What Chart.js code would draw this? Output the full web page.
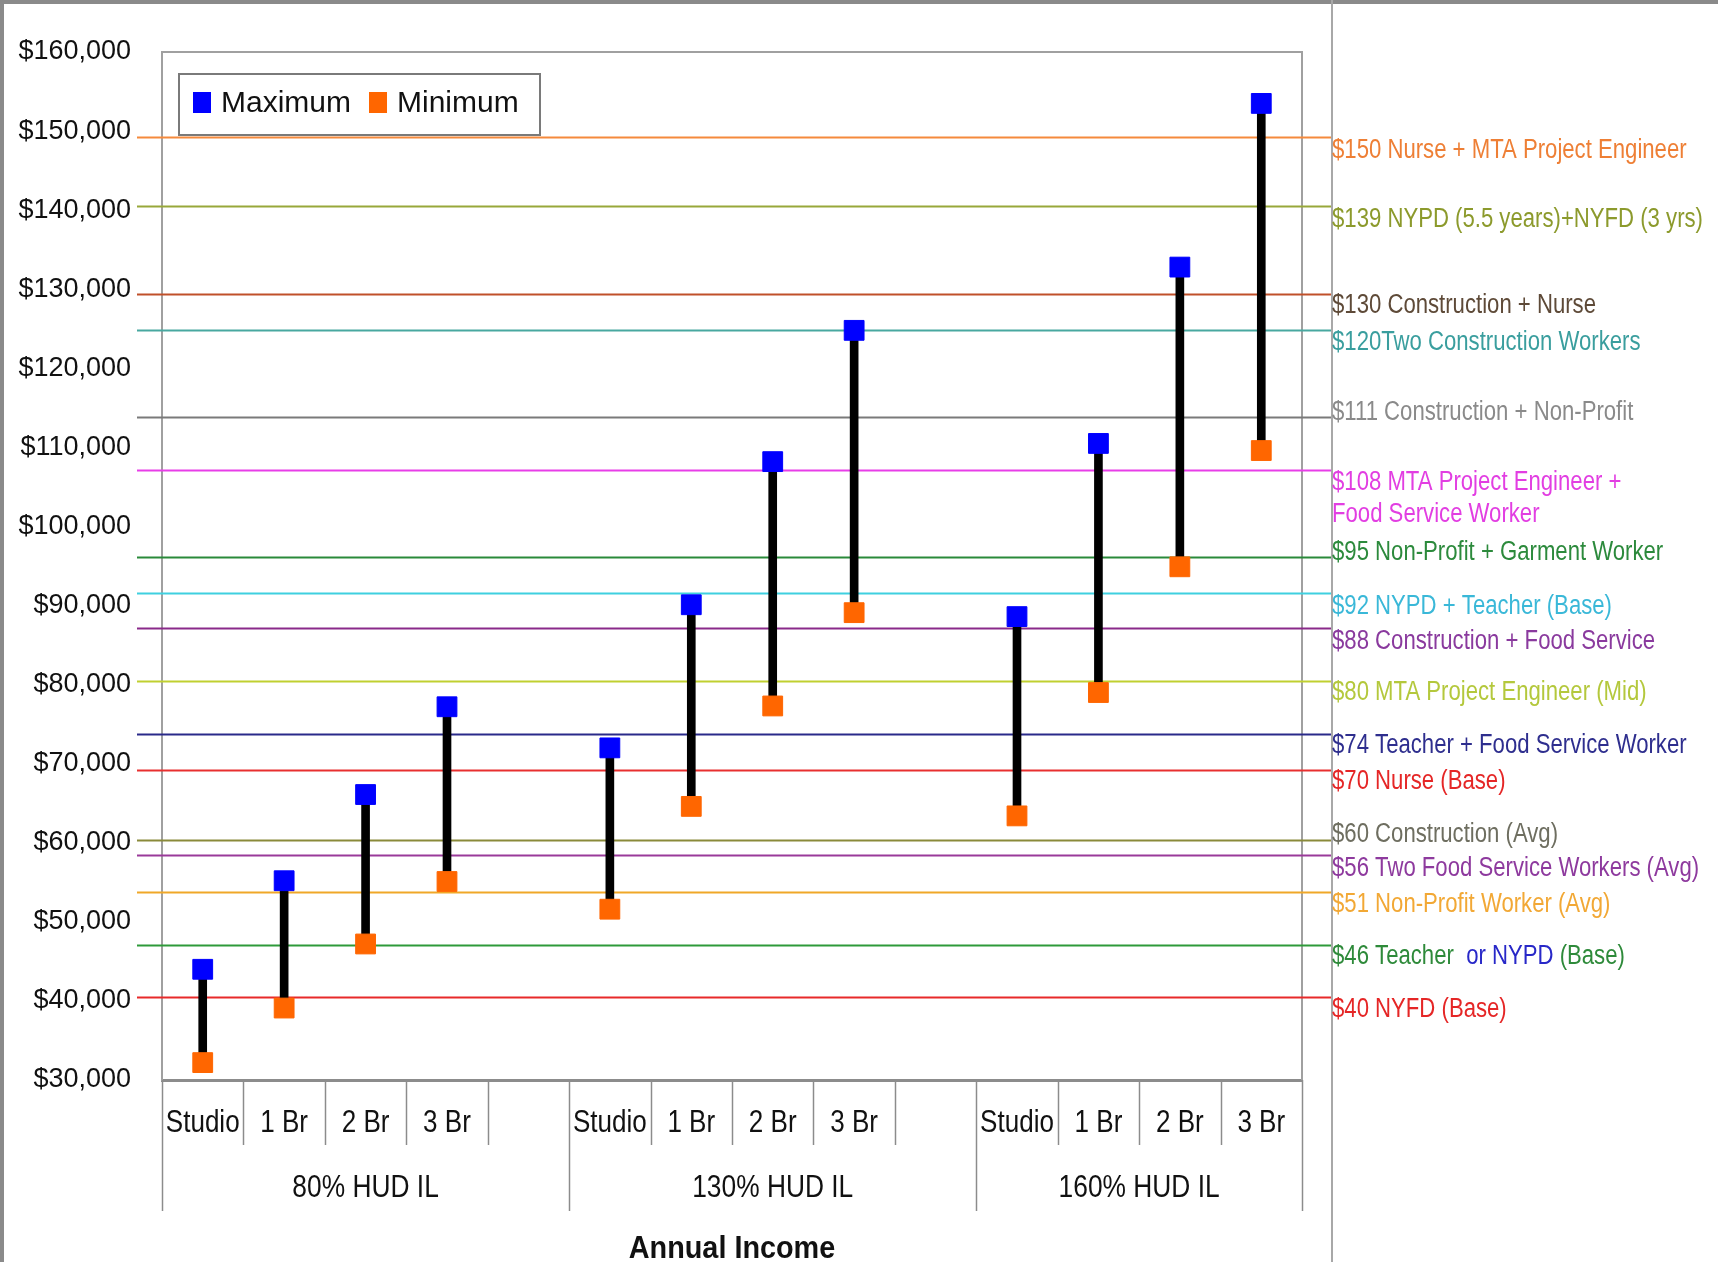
<!DOCTYPE html>
<html>
<head>
<meta charset="utf-8">
<script src="https://cdn.jsdelivr.net/npm/chart.js@4.4.1/dist/chart.umd.min.js"></script>
<style>
  html, body { margin: 0; padding: 0; background: #fff; }
  canvas { display: block; }
</style>
</head>
<body>
<canvas id="chart" width="1718" height="1262"></canvas>
<script>
const categories = ['Studio', '1 Br', '2 Br', '3 Br', '', 'Studio', '1 Br', '2 Br', '3 Br', '', 'Studio', '1 Br', '2 Br', '3 Br']
const groups = ['80% HUD IL', '130% HUD IL', '160% HUD IL']
const groupSpans = [[0, 4], [5, 9], [10, 13]]
const axisTitle = 'Annual Income'

const maximum = [44000, 55200, 66100, 77200, null, 72000, 90100, 108200, 124800, null, 88600, 110500, 132800, 153500]
const minimum = [32200, 39100, 47200, 55100, null, 51600, 64600, 77300, 89100, null, 63400, 79000, 94900, 109600]

const yMin = 30000
const yMax = 160000
const yStep = 10000

// household income reference lines (where they sit in the picture)
const refValues = [149200, 140500, 129400, 124900, 113800, 107200, 96200, 91600, 87100, 80500, 73800, 69200, 60400, 58400, 53800, 47100, 40500]
const refLabels = [
  '$150 Nurse + MTA Project Engineer',
  '$139 NYPD (5.5 years)+NYFD (3 yrs)',
  '$130 Construction + Nurse',
  '$120Two Construction Workers',
  '$111 Construction + Non-Profit',
  '$108 MTA Project Engineer +\nFood Service Worker',
  '$95 Non-Profit + Garment Worker',
  '$92 NYPD + Teacher (Base)',
  '$88 Construction + Food Service',
  '$80 MTA Project Engineer (Mid)',
  '$74 Teacher + Food Service Worker',
  '$70 Nurse (Base)',
  '$60 Construction (Avg)',
  '$56 Two Food Service Workers (Avg)',
  '$51 Non-Profit Worker (Avg)',
  '$46 Teacher  or NYPD (Base)',
  '$40 NYFD (Base)'
]

const refLineColors = ['#f58a3c', '#98a83a', '#c0502a', '#48a8a0', '#7a7a7a', '#e83ee8', '#2a8a3a', '#3fd0e0', '#8a2a8a', '#c0d030', '#2a2a8a', '#e83030', '#8a8a3a', '#9a3a9a', '#f0a828', '#2e9a3a', '#e82a2a']
const refTextColors = ['#ee7f35', '#8c9a2c', '#5e4a38', '#3a9e9e', '#8a8a8a', '#e23ee2', '#2c8a3c', '#3ab8d8', '#8a3a9e', '#b4c83c', '#2e2e8e', '#e52626', '#6e6e60', '#8e3a9e', '#f2a835', '#2e8a3a', '#e52626']
const labelNudge = [13, 13, 12, 13, -5, 13, -4, 14, 13, 12, 12, 12, -5, 13, 13, 12, 13]
const highlight = { 15: { text: 'or NYPD', color: '#2828c8' } }

const SANS = '"Liberation Sans", Arial, sans-serif'

// no narrow face installed: squeeze the text horizontally instead
function narrowText(ctx, text, x, y, squeeze) {
  ctx.save()
  ctx.translate(x, y)
  ctx.scale(squeeze, 1)
  ctx.fillText(text, 0, 0)
  ctx.restore()
  return ctx.measureText(text).width * squeeze
}

const decorations = {
  id: 'decorations',
  beforeDatasetsDraw(chart) {
    const { ctx, chartArea: a, scales: { y } } = chart
    ctx.save()
    ctx.strokeStyle = '#a0a0a0'
    ctx.lineWidth = 2
    ctx.beginPath()
    ctx.moveTo(a.left, a.bottom)
    ctx.lineTo(a.left, a.top)
    ctx.lineTo(a.right, a.top)
    ctx.lineTo(a.right, a.bottom)
    ctx.stroke()
    refValues.forEach((v, i) => {
      const py = Math.round(y.getPixelForValue(v)) + 0.5
      ctx.strokeStyle = refLineColors[i]
      ctx.lineWidth = 2
      ctx.beginPath()
      ctx.moveTo(a.left - 25, py)
      ctx.lineTo(a.right + 30, py)
      ctx.stroke()
    })
    ctx.restore()
  },
  afterDraw(chart) {
    const { ctx, chartArea: a, scales: { x, y } } = chart
    ctx.save()

    // outer frame and right separator
    ctx.fillStyle = '#8a8a8a'
    ctx.fillRect(0, 0, chart.width, 4)
    ctx.fillRect(0, 0, 4, chart.height)
    ctx.fillStyle = '#a8a8a8'
    ctx.fillRect(a.right + 29, 0, 2, chart.height)

    // category separators
    const slot = (a.right - a.left) / categories.length
    const longAt = [0]
    groupSpans.forEach(s => longAt.push(s[1] + 1))
    ctx.strokeStyle = '#8c8c8c'
    ctx.lineWidth = 1.5
    for (let b = 0; b <= categories.length; b++) {
      const px = Math.round(x.getPixelForValue(0) - slot / 2 + b * slot) + 0.5
      const len = longAt.includes(b) ? 131 : 65
      ctx.beginPath()
      ctx.moveTo(px, a.bottom)
      ctx.lineTo(px, a.bottom + len)
      ctx.stroke()
    }

    // category, group and axis labels
    ctx.fillStyle = '#111'
    ctx.textAlign = 'center'
    ctx.textBaseline = 'middle'
    ctx.font = '31px ' + SANS
    categories.forEach((c, i) => {
      if (c) narrowText(ctx, c, x.getPixelForValue(i), a.bottom + 43, 0.84)
    })
    groups.forEach((g, i) => {
      const cx = (x.getPixelForValue(groupSpans[i][0]) + x.getPixelForValue(groupSpans[i][1])) / 2
      narrowText(ctx, g, cx, a.bottom + 108, 0.85)
    })
    ctx.font = 'bold 32px ' + SANS
    narrowText(ctx, axisTitle, (a.left + a.right) / 2, a.bottom + 169, 0.9)

    // reference labels on the right
    ctx.textAlign = 'left'
    ctx.font = '27px ' + SANS
    const lx = a.right + 30
    const sq = 0.82
    refLabels.forEach((txt, i) => {
      const ly = y.getPixelForValue(refValues[i]) + labelNudge[i]
      txt.split('\n').forEach((line, k) => {
        const yy = ly + k * 32
        const h = highlight[i]
        if (h && line.includes(h.text)) {
          const [pre, post] = line.split(h.text)
          let cx = lx
          ctx.fillStyle = refTextColors[i]
          cx += narrowText(ctx, pre, cx, yy, sq)
          ctx.fillStyle = h.color
          cx += narrowText(ctx, h.text, cx, yy, sq)
          ctx.fillStyle = refTextColors[i]
          narrowText(ctx, post, cx, yy, sq)
        } else {
          ctx.fillStyle = refTextColors[i]
          narrowText(ctx, line, lx, yy, sq)
        }
      })
    })

    // legend box
    const bx = a.left + 17, by = a.top + 22, bw = 361, bh = 61
    ctx.fillStyle = '#fff'
    ctx.fillRect(bx, by, bw, bh)
    ctx.strokeStyle = '#7a7a7a'
    ctx.lineWidth = 2
    ctx.strokeRect(bx, by, bw, bh)
    ctx.font = '30px ' + SANS
    let cx = bx + 14
    chart.data.datasets.filter(d => d.type === 'line').forEach(d => {
      ctx.fillStyle = d.pointBackgroundColor
      ctx.fillRect(cx, by + 18, 18, 21)
      cx += 28
      ctx.fillStyle = '#111'
      ctx.fillText(d.label, cx, by + 30)
      cx += ctx.measureText(d.label).width + 18
    })
    ctx.restore()
  }
}

new Chart(document.getElementById('chart'), {
  data: {
    labels: categories,
    datasets: [
      {
        type: 'line',
        label: 'Maximum',
        data: maximum,
        showLine: false,
        pointStyle: 'rect',
        pointRadius: 14,
        pointBorderWidth: 1,
        pointBackgroundColor: '#0000ff',
        pointBorderColor: '#0000ff',
        order: 0
      },
      {
        type: 'line',
        label: 'Minimum',
        data: minimum,
        showLine: false,
        pointStyle: 'rect',
        pointRadius: 14,
        pointBorderWidth: 1,
        pointBackgroundColor: '#ff6600',
        pointBorderColor: '#ff6600',
        order: 0
      },
      {
        type: 'bar',
        label: 'Range',
        data: minimum.map((m, i) => m == null ? null : [m, maximum[i]]),
        backgroundColor: '#000',
        barThickness: 8,
        order: 1
      }
    ]
  },
  options: {
    responsive: false,
    animation: false,
    devicePixelRatio: 1,
    layout: { padding: { top: 52, right: 416, left: 0, bottom: 0 } },
    plugins: {
      legend: { display: false },
      tooltip: { enabled: false }
    },
    scales: {
      x: {
        type: 'category',
        offset: true,
        grid: { display: false, drawTicks: false },
        border: { display: true, color: '#8c8c8c', width: 3 },
        ticks: { display: false },
        afterFit(scale) { scale.height = 182 }
      },
      y: {
        min: yMin,
        max: yMax,
        grid: { display: false, drawTicks: false },
        border: { display: true, color: '#a0a0a0', width: 2 },
        ticks: {
          stepSize: yStep,
          padding: 31,
          color: '#111',
          font: { family: SANS, size: 27 },
          callback: v => '$' + v.toLocaleString('en-US')
        },
        afterFit(scale) { scale.width = 162 }
      }
    }
  },
  plugins: [decorations]
})
</script>
</body>
</html>
